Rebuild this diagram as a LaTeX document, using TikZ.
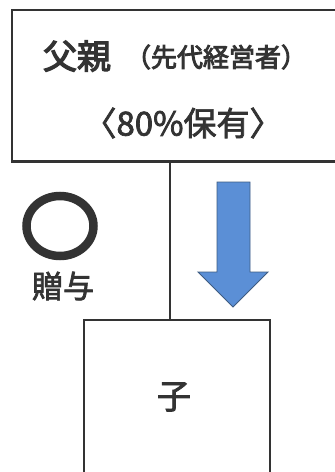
\documentclass[tikz,border=0pt]{standalone}
\usepackage{fontspec}
\setmainfont{Noto Sans CJK JP}
\newfontfamily\medfont[FakeBold=2.2]{Noto Sans CJK JP}
\newfontfamily\semifont[FakeBold=3.5]{Noto Sans CJK JP}
\usetikzlibrary{calc}
\definecolor{ink}{HTML}{333333}
\definecolor{arrowblue}{HTML}{5B8FD6}
\definecolor{arrowedge}{HTML}{3E5C82}
\tikzset{
  boxframe/.style={draw=ink, line width=1.6pt, inner sep=0pt},
  txt/.style={text=ink, inner sep=0pt},
}
\begin{document}
\begin{tikzpicture}[x=1pt,y=-1pt]
\useasboundingbox (0,0) rectangle (335,472);
\clip (0,0) rectangle (335,472);
\fill[white] (0,0) rectangle (335,472);
% parent box (cut off at right)
\node[boxframe, minimum width=340pt, minimum height=151pt, anchor=north west] (parent) at (11,9) {};
\draw[ink, line width=3pt] (parent.south west) -- (parent.south east);
% child box (cut off at bottom)
\node[boxframe, line width=1.5pt, minimum width=186pt, minimum height=170pt, anchor=north west] (child) at (83,319) {};
% connector
\draw[ink, line width=1.1pt] (parent.south -| 170,0) -- (child.north -| 170,0);
% texts
\node[txt, font=\fontsize{34}{34}\semifont] (father) at (77,56) {父親};
\node[txt, font=\fontsize{26}{26}\semifont] (role) at (216,57) {（先代経営者）};
\node[txt, font=\fontsize{33}{33}\medfont] (share) at (183,123) {〈80\%保有〉};
\node[txt, font=\fontsize{34}{34}\medfont] (son) at (174,397) {子};
\node[txt, font=\fontsize{31}{31}\medfont] (gift) at (63,286) {贈与};
% circle mark
\draw[ink, line width=8.5pt] (60,226) ellipse [x radius=33.5, y radius=30];
% blue down arrow
\filldraw[fill=arrowblue, draw=arrowedge, line width=0.9pt]
  (217,182) -- (250,182) -- (250,272) -- (268,272) -- (233,307) -- (198,272) -- (217,272) -- cycle;
\end{tikzpicture}
\end{document}
